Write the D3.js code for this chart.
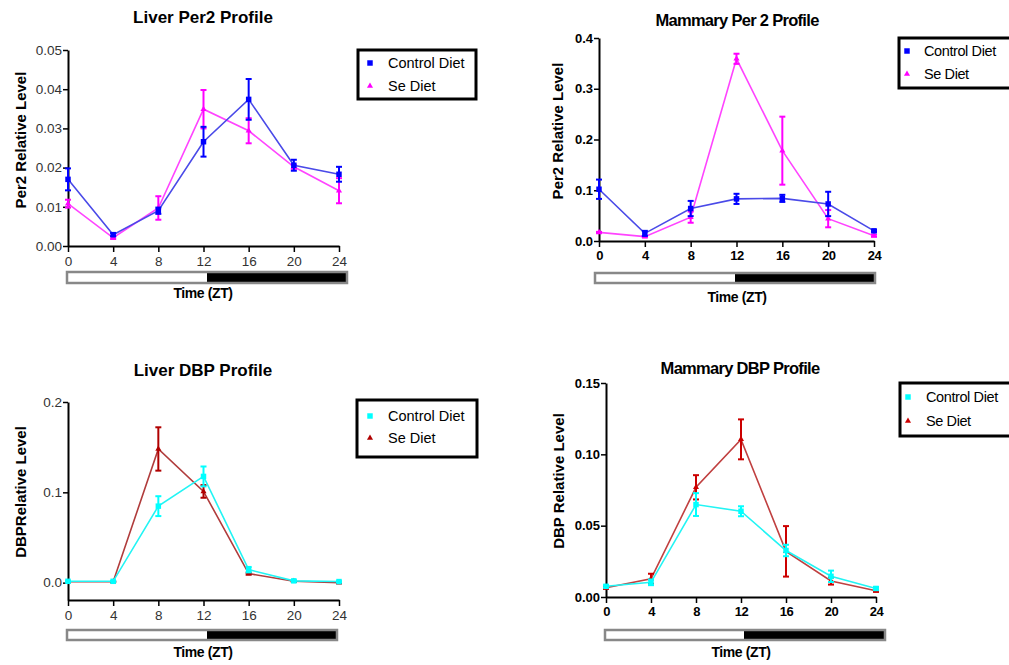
<!DOCTYPE html>
<html>
<head>
<meta charset="utf-8">
<script src="https://cdn.jsdelivr.net/npm/d3@7"></script>
<style>
  body { margin: 0; background: #fff; }
  svg { display: block; font-family: "Liberation Sans", Arial, sans-serif; }
</style>
</head>
<body>
<svg id="chart" width="1009" height="665"></svg>
<script>
// data ______________________________________________________________________
const times = [0, 4, 8, 12, 16, 20, 24];
const seriesNames = ['Control Diet', 'Se Diet'];

const liverPer2Control    = [0.0170, 0.0029, 0.0090, 0.0266, 0.0374, 0.0206, 0.0183];
const liverPer2ControlErr = [0.0028, 0.0004, 0.0008, 0.0038, 0.0052, 0.0014, 0.0019];
const liverPer2Se         = [0.0108, 0.0021, 0.0097, 0.0349, 0.0294, 0.0202, 0.0141];
const liverPer2SeErr      = [0.0010, 0.0003, 0.0030, 0.0049, 0.0032, 0.0005, 0.0032];

const mammaryPer2Control    = [0.102, 0.015, 0.064, 0.083, 0.084, 0.073, 0.020];
const mammaryPer2ControlErr = [0.019, 0.005, 0.015, 0.010, 0.007, 0.024, 0.002];
const mammaryPer2Se         = [0.017, 0.0086, 0.047, 0.359, 0.178, 0.044, 0.0105];
const mammaryPer2SeErr      = [0.001, 0.001, 0.011, 0.010, 0.067, 0.017, 0.002];

const liverDbpControl    = [0.0015, 0.0015, 0.0847, 0.1176, 0.0144, 0.0020, 0.0012];
const liverDbpControlErr = [0.0005, 0.0005, 0.0110, 0.0110, 0.0030, 0.0008, 0.0005];
const liverDbpSe         = [0.0010, 0.0010, 0.1480, 0.1010, 0.0100, 0.0015, 0.0000];
const liverDbpSeErr      = [0.0003, 0.0003, 0.0240, 0.0070, 0.0010, 0.0005, 0.0005];

const mammaryDbpControl    = [0.0075, 0.0103, 0.0648, 0.0601, 0.0326, 0.0145, 0.0060];
const mammaryDbpControlErr = [0.0008, 0.0020, 0.0080, 0.0035, 0.0040, 0.0040, 0.0010];
const mammaryDbpSe         = [0.0065, 0.0128, 0.0769, 0.1105, 0.0320, 0.0112, 0.0044];
const mammaryDbpSeErr      = [0.0008, 0.0035, 0.0085, 0.0140, 0.0177, 0.0025, 0.0008];

const liverPer2Ticks   = [0, 0.01, 0.02, 0.03, 0.04, 0.05];
const mammaryPer2Ticks = [0, 0.1, 0.2, 0.3, 0.4];
const liverDbpTicks    = [0, 0.1, 0.2];
const mammaryDbpTicks  = [0, 0.05, 0.10, 0.15];

// panels ____________________________________________________________________
const panels = [
  {
    title: 'Liver Per2 Profile', yLabel: 'Per2 Relative Level',
    ctrl: liverPer2Control, ctrlErr: liverPer2ControlErr, se: liverPer2Se, seErr: liverPer2SeErr,
    domain: [0, 0.05], ticks: liverPer2Ticks, fmt: '.2f', bold: false,
    x0: 68, x1: 339, yTop: 50, yBot: 246,
    titleX: 203, titleY: 17, yLabX: 20, yLabY: 140,
    bar: [67, 207, 347, 272, 283], timeX: 203, timeY: 293,
    legend: [358, 50, 118, 49, 63, 86, 370, 388],
    colors: ['#0000ff', '#ff00ff'], lineColors: ['#4a4ae8', '#ff44ff']
  },
  {
    title: 'Mammary Per 2 Profile', yLabel: 'Per2 Relative Level',
    ctrl: mammaryPer2Control, ctrlErr: mammaryPer2ControlErr, se: mammaryPer2Se, seErr: mammaryPer2SeErr,
    domain: [0, 0.4], ticks: mammaryPer2Ticks, fmt: '.1f', bold: true,
    x0: 599, x1: 874, yTop: 38, yBot: 241,
    titleX: 737, titleY: 20, yLabX: 557, yLabY: 131,
    bar: [595, 735, 875, 273, 283], timeX: 737, timeY: 297,
    legend: [899, 38, 120, 50, 51, 74, 907, 924],
    colors: ['#0000ff', '#ff00ff'], lineColors: ['#4a4ae8', '#ff44ff']
  },
  {
    title: 'Liver DBP Profile', yLabel: 'DBPRelative Level',
    ctrl: liverDbpControl, ctrlErr: liverDbpControlErr, se: liverDbpSe, seErr: liverDbpSeErr,
    domain: [-0.0192, 0.2], ticks: liverDbpTicks, fmt: '.1f', bold: false,
    x0: 68, x1: 339, yTop: 402, yBot: 600,
    titleX: 203, titleY: 370, yLabX: 20, yLabY: 492,
    bar: [67, 207, 337, 630, 640], timeX: 203, timeY: 652,
    legend: [357, 400, 120, 57, 416, 438, 370, 388],
    colors: ['#00ffff', '#b00000'], lineColors: ['#22f4f4', '#b03c3c']
  },
  {
    title: 'Mammary DBP Profile', yLabel: 'DBP Relative Level',
    ctrl: mammaryDbpControl, ctrlErr: mammaryDbpControlErr, se: mammaryDbpSe, seErr: mammaryDbpSeErr,
    domain: [0, 0.15], ticks: mammaryDbpTicks, fmt: '.2f', bold: true,
    x0: 606, x1: 876, yTop: 383, yBot: 597,
    titleX: 740, titleY: 368, yLabX: 558, yLabY: 481,
    bar: [605, 744, 885, 630, 640], timeX: 741, timeY: 652,
    legend: [900, 383, 120, 53, 397, 421, 908, 926],
    colors: ['#00ffff', '#cc0000'], lineColors: ['#22f4f4', '#c04040']
  }
];

const svg = d3.select('#chart');

const squareSym = d3.symbol().type(d3.symbolSquare).size(30);
const triSym = d3.symbol().type(d3.symbolTriangle).size(16);

for (const p of panels) {
  const g = svg.append('g');

  const x = d3.scaleLinear().domain([0, 24]).range([p.x0, p.x1]);
  const y = d3.scaleLinear().domain(p.domain).range([p.yBot, p.yTop]);

  const tickFill = p.bold ? '#000' : '#333';
  const tickWeight = p.bold ? 'bold' : 'normal';

  // axes
  const xAxis = g.append('g')
    .attr('transform', `translate(0, ${p.yBot})`)
    .call(d3.axisBottom(x).tickValues(times).tickSize(6).tickSizeOuter(0).tickPadding(4));
  const yAxis = g.append('g')
    .attr('transform', `translate(${p.x0}, 0)`)
    .call(d3.axisLeft(y).tickValues(p.ticks).tickFormat(d3.format(p.fmt)).tickSize(5).tickSizeOuter(0).tickPadding(1));

  for (const ax of [xAxis, yAxis]) {
    ax.select('.domain').attr('stroke', '#000').attr('stroke-width', 2);
    ax.selectAll('.tick line').attr('stroke', '#000').attr('stroke-width', 1.5);
    ax.selectAll('.tick text')
      .attr('fill', tickFill)
      .style('font-size', p.bold ? '13px' : '13.5px')
      .style('font-weight', tickWeight)
      .style('font-family', '"Liberation Sans", Arial, sans-serif');
  }
  if (p.bold) xAxis.selectAll('.tick text').style('letter-spacing', '-0.5px');

  // title and labels
  g.append('text')
    .attr('x', p.titleX).attr('y', p.titleY)
    .attr('text-anchor', 'middle').attr('dominant-baseline', 'central')
    .style('font-size', p.bold ? '16.5px' : '17px').style('font-weight', 'bold')
    .style('letter-spacing', p.bold ? '-0.7px' : '0px')
    .text(p.title);

  g.append('text')
    .attr('transform', `translate(${p.yLabX}, ${p.yLabY}) rotate(-90)`)
    .attr('text-anchor', 'middle').attr('dominant-baseline', 'central')
    .style('font-size', '15px').style('font-weight', 'bold')
    .text(p.yLabel);

  g.append('text')
    .attr('x', p.timeX).attr('y', p.timeY)
    .attr('text-anchor', 'middle').attr('dominant-baseline', 'central')
    .style('font-size', '14px').style('font-weight', 'bold')
    .style('letter-spacing', '-0.4px')
    .text('Time (ZT)');

  // light / dark bar
  const [bl, bm, br, bt, bb] = p.bar;
  g.append('rect').attr('x', bl).attr('y', bt).attr('width', bm - bl).attr('height', bb - bt)
    .attr('fill', '#fff');
  g.append('rect').attr('x', bm).attr('y', bt).attr('width', br - bm).attr('height', bb - bt)
    .attr('fill', '#000');
  g.append('rect').attr('x', bl).attr('y', bt).attr('width', br - bl).attr('height', bb - bt)
    .attr('fill', 'none').attr('stroke', '#888').attr('stroke-width', 2.5);

  // series: Se first so Control sits on top
  const series = [
    {vals: p.se, err: p.seErr, color: p.colors[1], line: p.lineColors[1], sym: triSym},
    {vals: p.ctrl, err: p.ctrlErr, color: p.colors[0], line: p.lineColors[0], sym: squareSym}
  ];

  const line = d3.line().x(d => x(d[0])).y(d => y(d[1]));

  for (const s of series) {
    const pts = times.map((t, i) => [t, s.vals[i], s.err[i]]);
    const sg = g.append('g');

    sg.append('path')
      .attr('d', line(pts))
      .attr('fill', 'none')
      .attr('stroke', s.line)
      .attr('stroke-width', 1.6);

    const eb = sg.selectAll('.err').data(pts).enter().append('g');
    eb.append('line')
      .attr('x1', d => x(d[0])).attr('x2', d => x(d[0]))
      .attr('y1', d => y(d[1] - d[2])).attr('y2', d => y(d[1] + d[2]))
      .attr('stroke', s.color).attr('stroke-width', 2);
    for (const sign of [-1, 1]) {
      eb.append('line')
        .attr('x1', d => x(d[0]) - 3).attr('x2', d => x(d[0]) + 3)
        .attr('y1', d => y(d[1] + sign * d[2])).attr('y2', d => y(d[1] + sign * d[2]))
        .attr('stroke', s.color).attr('stroke-width', 2);
    }

    sg.selectAll('.pt').data(pts).enter().append('path')
      .attr('d', s.sym)
      .attr('transform', d => `translate(${x(d[0])}, ${y(d[1])})`)
      .attr('fill', s.color);
  }

  // legend
  const [lx, ly, lw, lh, lc, ls, mx, tx] = p.legend;
  g.append('rect').attr('x', lx).attr('y', ly).attr('width', lw).attr('height', lh)
    .attr('fill', '#fff').attr('stroke', '#000').attr('stroke-width', 3);
  const legRows = [
    {name: seriesNames[0], yy: lc, color: p.colors[0], sym: squareSym},
    {name: seriesNames[1], yy: ls, color: p.colors[1], sym: triSym}
  ];
  for (const r of legRows) {
    g.append('path').attr('d', r.sym)
      .attr('transform', `translate(${mx}, ${r.yy})`)
      .attr('fill', r.color);
    g.append('text')
      .attr('x', tx).attr('y', r.yy)
      .attr('dominant-baseline', 'central')
      .style('font-size', '14.5px')
      .style('letter-spacing', p.bold ? '-0.4px' : '0px')
      .text(r.name);
  }
}
</script>
</body>
</html>
